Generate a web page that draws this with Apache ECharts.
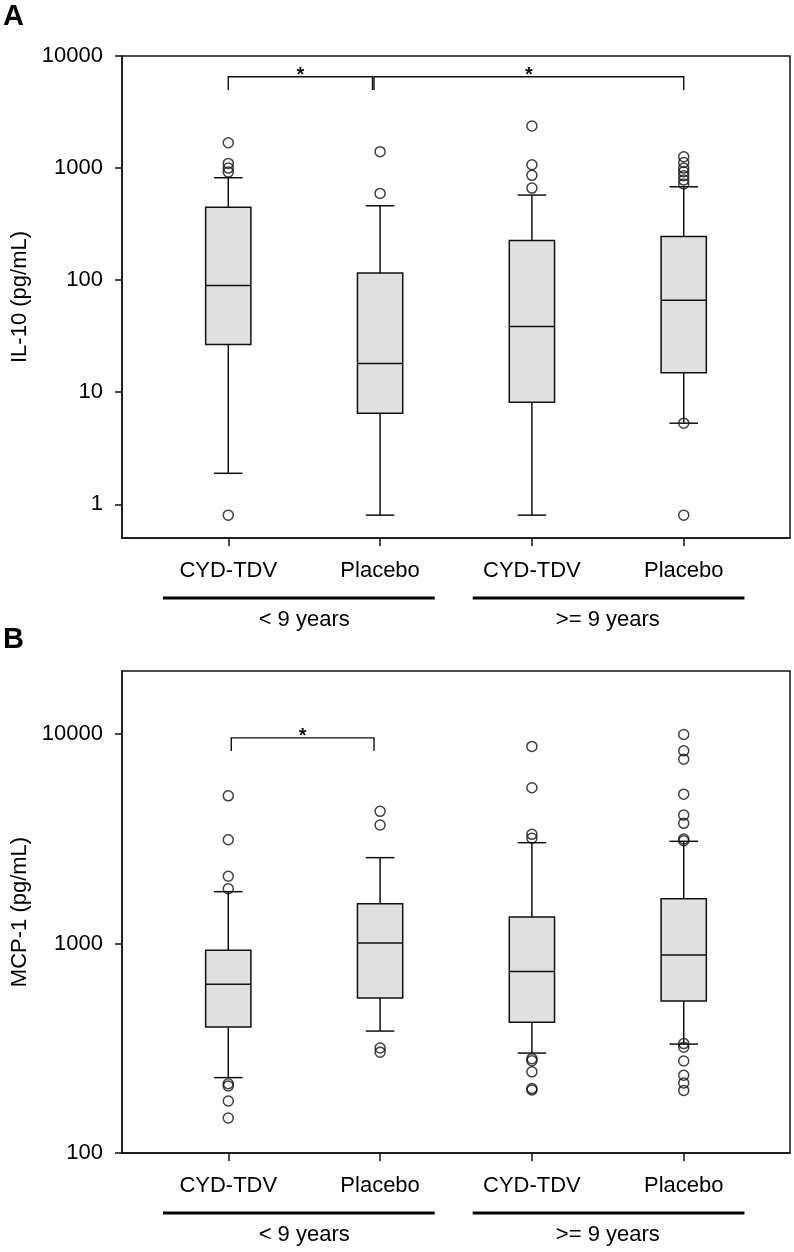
<!DOCTYPE html>
<html>
<head>
<meta charset="utf-8">
<script src="https://cdn.jsdelivr.net/npm/echarts@6/dist/echarts.min.js"></script>
<style>
html,body{margin:0;padding:0;background:#fff;}
#chart{width:794px;height:1252px;}
</style>
</head>
<body>
<div id="chart"></div>
<script>
// ---------- data ----------
const categories = ['CYD-TDV', 'Placebo', 'CYD-TDV', 'Placebo'];
const xPositions = [1, 2, 3, 4];
const groupNames = ['< 9 years', '>= 9 years'];
const groupMembers = [[0, 1], [2, 3]];
const groupSpans = [[0.57, 2.36], [2.61, 4.40]];

// IL-10: [lower whisker, Q1, median, Q3, upper whisker]
const il10Box = [
  [1.89, 26.7, 89.7, 446, 820],
  [0.80, 6.49, 18.0, 116, 461],
  [0.80, 8.14, 38.6, 226, 574],
  [5.29, 14.9, 66.3, 245, 681]
];
const il10Outliers = [
  [1683, 1100, 1000, 921, 0.80],
  [1400, 594],
  [2371, 1071, 861, 663],
  [1262, 1122, 1000, 927, 853, 781, 720, 5.29, 0.80]
];
const il10Ticks = [1, 10, 100, 1000, 10000];
const il10Range = [0.5, 10000];
const il10Brackets = [[1, 1.95, 6530, 4970], [1.96, 4, 6530, 4970]];

// MCP-1
const mcp1Box = [
  [229, 399, 640, 929, 1768],
  [382, 550, 1007, 1550, 2570],
  [300, 421, 735, 1340, 3030],
  [331, 531, 882, 1637, 3076]
];
const mcp1Outliers = [
  [5070, 3131, 2094, 1827, 214, 209, 177, 147],
  [4275, 3680, 317, 303],
  [8730, 5540, 3320, 3180, 282, 276, 244, 203, 200],
  [9950, 8315, 7585, 5166, 4104, 3748, 3155, 3095, 333, 320, 275, 235, 216, 199]
];
const mcp1Ticks = [100, 1000, 10000];
const mcp1Range = [100, 20000];
const mcp1Brackets = [[1.02, 1.96, 9590, 8290]];

const panelLabels = ['A', 'B'];
const yTitles = ['IL-10 (pg/mL)', 'MCP-1 (pg/mL)'];

// ---------- style ----------
const FONT = "'Liberation Sans', Arial, sans-serif";
const BOX_HALF = 0.149;
const CAP_HALF = 0.094;
const INK = '#111';
const grids = [
  { left: 122, top: 56, width: 668, height: 482 },
  { left: 122, top: 671, width: 668, height: 482 }
];

function boxData(box) {
  return box.map((b, i) => [xPositions[i]].concat(b));
}
function outlierData(out) {
  const res = [];
  out.forEach((arr, i) => arr.forEach(v => res.push([xPositions[i], v])));
  return res;
}

function renderBox(params, api) {
  const x = api.value(0);
  const lo = api.value(1), q1 = api.value(2), med = api.value(3), q3 = api.value(4), hi = api.value(5);
  const tl = api.coord([x - BOX_HALF, q3]);
  const br = api.coord([x + BOX_HALF, q1]);
  const mL = api.coord([x - BOX_HALF, med]);
  const mR = api.coord([x + BOX_HALF, med]);
  const c = api.coord([x, hi]);
  const cLo = api.coord([x, lo]);
  const capL = api.coord([x - CAP_HALF, hi])[0];
  const capR = api.coord([x + CAP_HALF, hi])[0];
  const ls = { stroke: INK, lineWidth: 1.5, fill: null };
  return {
    type: 'group',
    children: [
      { type: 'line', shape: { x1: c[0], y1: c[1], x2: c[0], y2: tl[1] }, style: ls },
      { type: 'line', shape: { x1: c[0], y1: br[1], x2: c[0], y2: cLo[1] }, style: ls },
      { type: 'line', shape: { x1: capL, y1: c[1], x2: capR, y2: c[1] }, style: ls },
      { type: 'line', shape: { x1: capL, y1: cLo[1], x2: capR, y2: cLo[1] }, style: ls },
      { type: 'rect', shape: { x: tl[0], y: tl[1], width: br[0] - tl[0], height: br[1] - tl[1] },
        style: { fill: '#e0e0e0', stroke: INK, lineWidth: 1.5 } },
      { type: 'line', shape: { x1: mL[0], y1: mL[1], x2: mR[0], y2: mR[1] }, style: ls }
    ]
  };
}

function renderBracket(params, api) {
  const x1 = api.value(0), x2 = api.value(1), yt = api.value(2), yl = api.value(3);
  const a = api.coord([x1, yt]);
  const b = api.coord([x2, yt]);
  const aL = api.coord([x1, yl]);
  const ls = { stroke: INK, lineWidth: 1.4, fill: null };
  return {
    type: 'group',
    children: [
      { type: 'polyline', shape: { points: [[a[0], aL[1]], [a[0], a[1]], [b[0], b[1]], [b[0], aL[1]]] }, style: ls },
      { type: 'text', x: (a[0] + b[0]) / 2, y: a[1] + 9,
        style: { text: '*', fill: INK, font: 'bold 20px ' + FONT, align: 'center', verticalAlign: 'bottom' } }
    ]
  };
}

function makeX(i) {
  return {
    type: 'value', gridIndex: i, min: 0.3, max: 4.7,
    axisLine: { show: true, lineStyle: { color: INK, width: 1.5 } },
    axisTick: { show: true, customValues: xPositions, length: 8, lineStyle: { color: INK, width: 1.5 } },
    axisLabel: {
      customValues: xPositions, margin: 22, color: '#000', fontSize: 22, fontFamily: FONT,
      formatter: v => categories[xPositions.indexOf(Math.round(v))] || ''
    },
    splitLine: { show: false }
  };
}
function makeY(i, range, ticks, title) {
  return {
    type: 'log', logBase: 10, gridIndex: i, min: range[0], max: range[1],
    name: title, nameLocation: 'middle', nameGap: 84, nameRotate: 90,
    nameTextStyle: { color: '#000', fontSize: 22, fontFamily: FONT },
    axisLine: { show: true, lineStyle: { color: INK, width: 1.5 } },
    axisTick: { show: true, customValues: ticks, length: 7, lineStyle: { color: INK, width: 1.5 } },
    axisLabel: {
      customValues: ticks, margin: 19, color: '#000', fontSize: 22, fontFamily: FONT,
      formatter: v => String(Math.round(v))
    },
    splitLine: { show: false }
  };
}

const chart = echarts.init(document.getElementById('chart'), null, { renderer: 'canvas' });
const boxSets = [il10Box, mcp1Box];
const outSets = [il10Outliers, mcp1Outliers];
const bracketSets = [il10Brackets, mcp1Brackets];

const series = [];
[0, 1].forEach(i => {
  series.push({
    type: 'custom', xAxisIndex: i, yAxisIndex: i, renderItem: renderBox,
    data: boxData(boxSets[i]), encode: { x: 0, y: [1, 2, 3, 4, 5] }, silent: true, z: 2, clip: false
  });
  series.push({
    type: 'scatter', xAxisIndex: i, yAxisIndex: i, data: outlierData(outSets[i]),
    symbol: 'circle', symbolSize: 10,
    itemStyle: { color: 'rgba(0,0,0,0)', borderColor: INK, borderWidth: 1.5 },
    silent: true, z: 3
  });
  series.push({
    type: 'custom', xAxisIndex: i, yAxisIndex: i, renderItem: renderBracket,
    data: bracketSets[i], encode: { x: [0, 1], y: [2, 3] }, silent: true, z: 2, clip: false
  });
});

chart.setOption({
  animation: false,
  backgroundColor: '#fff',
  grid: grids.map(g => Object.assign({ show: true, borderColor: INK, borderWidth: 1.5, backgroundColor: 'transparent' }, g)),
  xAxis: [makeX(0), makeX(1)],
  yAxis: [makeY(0, il10Range, il10Ticks, yTitles[0]), makeY(1, mcp1Range, mcp1Ticks, yTitles[1])],
  series: series
});

// group annotation lines and labels below the x axes
const graphics = [];
[0, 1].forEach(i => {
  const bottom = grids[i].top + grids[i].height;
  groupSpans.forEach((span, k) => {
    const p1 = chart.convertToPixel({ xAxisIndex: i }, span[0]);
    const p2 = chart.convertToPixel({ xAxisIndex: i }, span[1]);
    graphics.push({ type: 'line', shape: { x1: p1, y1: bottom + 60, x2: p2, y2: bottom + 60 },
      style: { stroke: '#000', lineWidth: 3.2 } });
    const mem = groupMembers[k];
    const cx = chart.convertToPixel({ xAxisIndex: i }, (xPositions[mem[0]] + xPositions[mem[1]]) / 2);
    graphics.push({ type: 'text', x: cx, y: bottom + 82,
      style: { text: groupNames[k], fill: '#000', font: '22px ' + FONT, align: 'center', verticalAlign: 'middle' } });
  });
});
graphics.push({ type: 'text', x: 3, y: 17, style: { text: panelLabels[0], fill: '#000', font: 'bold 29px ' + FONT, verticalAlign: 'middle' } });
graphics.push({ type: 'text', x: 3, y: 640, style: { text: panelLabels[1], fill: '#000', font: 'bold 29px ' + FONT, verticalAlign: 'middle' } });
chart.setOption({ graphic: graphics });
</script>
</body>
</html>
